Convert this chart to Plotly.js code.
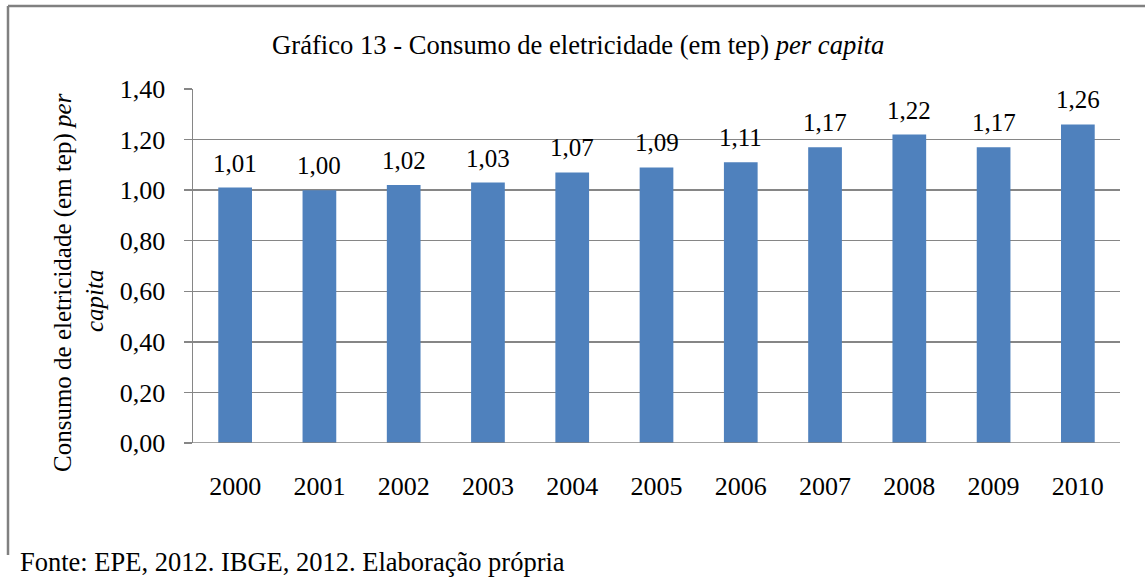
<!DOCTYPE html>
<html>
<head>
<meta charset="utf-8">
<script src="https://cdn.plot.ly/plotly-3.0.1.min.js"></script>
<style>html,body{margin:0;padding:0;background:#fff;}#chart{width:1145px;height:577px;}</style>
</head>
<body>
<div id="chart"></div>
<script>
var years = ['2000','2001','2002','2003','2004','2005','2006','2007','2008','2009','2010'];
var consumo = [1.01, 1.00, 1.02, 1.03, 1.07, 1.09, 1.11, 1.17, 1.22, 1.17, 1.26];
var yTicks = [0, 0.2, 0.4, 0.6, 0.8, 1.0, 1.2, 1.4];

var FONT = "'Liberation Serif', 'Times New Roman', serif";

var labelAnns = years.map(function (yr, i) {
  return {
    x: i, y: consumo[i], xref: 'x', yref: 'y',
    text: consumo[i].toFixed(2).replace('.', ','),
    showarrow: false, yanchor: 'bottom', yshift: 9,
    font: {family: FONT, size: 25, color: '#000'}
  };
});

var layout = {
  width: 1145, height: 577,
  margin: {l: 193, r: 25, t: 89, b: 134},
  paper_bgcolor: '#fff', plot_bgcolor: '#fff',
  separators: ',.',
  showlegend: false,
  bargap: 0.6,
  font: {family: FONT, size: 25, color: '#000'},
  title: {
    text: 'Gráfico 13 - Consumo de eletricidade (em tep) <i>per capita</i>',
    font: {family: FONT, size: 26.6, color: '#000'},
    x: 0.505, xanchor: 'center', y: 0.923, yanchor: 'middle'
  },
  xaxis: {
    type: 'category', showgrid: false, zeroline: false,
    showline: false, ticks: '', ticklabelstandoff: 25,
    tickfont: {family: FONT, size: 26, color: '#000'}
  },
  yaxis: {
    range: [0, 1.4], tickvals: yTicks, tickformat: '.2f',
    showgrid: true, gridcolor: '#868686', gridwidth: 1.5,
    zeroline: false, showline: true, linecolor: '#868686', linewidth: 1.5,
    ticks: 'outside', ticklen: 8, tickcolor: '#868686', tickwidth: 1.5,
    ticklabelstandoff: 13,
    tickfont: {family: FONT, size: 26, color: '#000'}
  },
  shapes: [
    {type: 'line', xref: 'paper', yref: 'y', x0: -8 / 927, x1: 1, y0: 0, y1: 0,
     line: {color: '#868686', width: 1.5}},
    {type: 'line', xref: 'paper', yref: 'paper', x0: -185 / 927, x1: 1.03, y0: 1 + 83 / 354, y1: 1 + 83 / 354,
     line: {color: '#808080', width: 2.5}},
    {type: 'line', xref: 'paper', yref: 'paper', x0: -185 / 927, x1: -185 / 927, y0: 1 + 83 / 354, y1: -112 / 354,
     line: {color: '#808080', width: 2.5}}
  ],
  annotations: labelAnns.concat([
    {
      xref: 'paper', yref: 'paper', x: -130 / 927, y: (443 - 283) / 354,
      xanchor: 'center', yanchor: 'middle', textangle: -90, showarrow: false,
      text: 'Consumo de eletricidade (em tep) <i>per</i>',
      font: {family: FONT, size: 25, color: '#000'}
    },
    {
      xref: 'paper', yref: 'paper', x: -99 / 927, y: (443 - 301) / 354,
      xanchor: 'center', yanchor: 'middle', textangle: -90, showarrow: false,
      text: '<i>capita</i>',
      font: {family: FONT, size: 25, color: '#000'}
    },
    {
      xref: 'paper', yref: 'paper', x: -175 / 927, y: -119 / 354,
      xanchor: 'left', yanchor: 'middle', showarrow: false,
      text: 'Fonte: EPE, 2012. IBGE, 2012. Elaboração própria',
      font: {family: FONT, size: 26.5, color: '#000'}
    }
  ])
};

var data = [{
  type: 'bar', x: years, y: consumo,
  marker: {color: '#4F81BD'},
  hoverinfo: 'none'
}];

Plotly.newPlot('chart', data, layout, {staticPlot: true});
</script>
</body>
</html>
